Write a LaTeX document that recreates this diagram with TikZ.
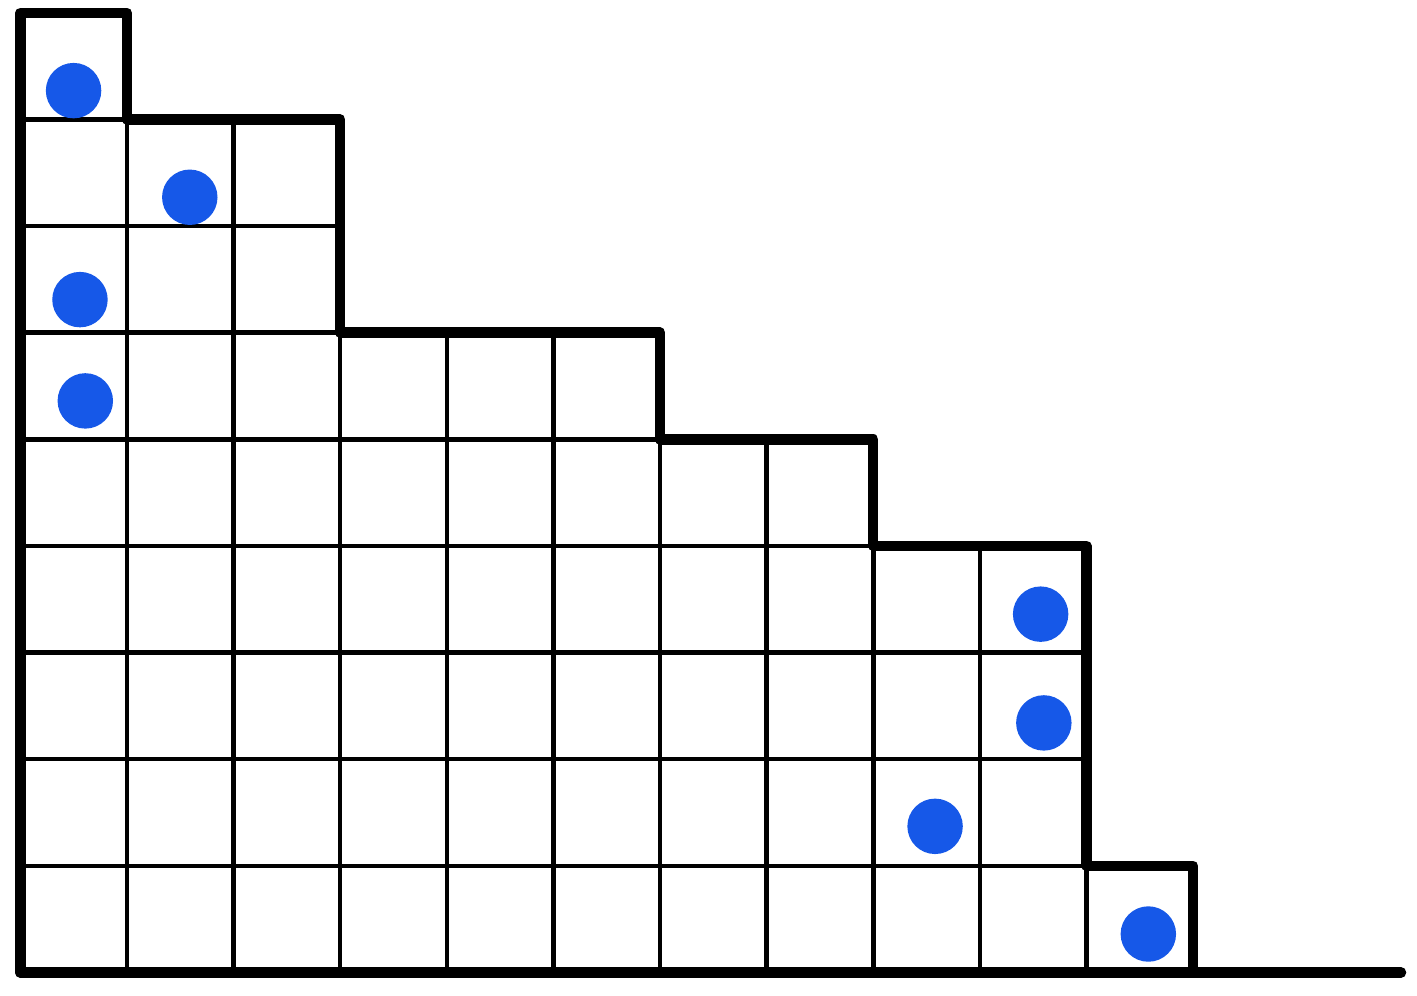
\documentclass[tikz,border=0pt]{standalone}
\definecolor{markerblue}{RGB}{22,88,232}
\tikzset{
  gridline/.style = {line width=1.2pt, black},
  rim/.style = {line width=2.8pt, black, line join=round, line cap=round},
  dot/.style = {circle, fill=markerblue, inner sep=0pt, minimum size=0.52cm}
}
\begin{document}
\begin{tikzpicture}
			\useasboundingbox (-0.19,-0.22) rectangle (13.1,9.12);
			% inner rows and columns
			\foreach \k/\w in {1/11,2/10,3/10,4/10,5/8,6/6,7/3,8/3}
				\draw[gridline] (0,\k) -- (\w,\k);
			\foreach \j/\h in {1/9,2/8,3/8,4/6,5/6,6/6,7/5,8/5,9/4,10/4}
				\draw[gridline] (\j,0) -- (\j,\h);
			
			\coordinate (o) at (0,0);
			\coordinate (e) at (12.95,0);
			\draw[rim] (o) -- (0,9) -- (1,9) -- (1,8) -- (3,8) -- (3,6) -- (6,6) -- (6,5)
				-- (8,5) -- (8,4) -- (10,4) -- (10,1) -- (11,1) -- (11,0);
			\draw[rim] (o) -- (e);
			
			\node[dot] (d1) at (0.50,8.27) {};
			\node[dot] (d2) at (1.59,7.27) {};
			\node[dot] (d3) at (0.56,6.31) {};
			\node[dot] (d4) at (0.61,5.36) {};
			\node[dot] (d5) at (9.57,3.36) {};
			\node[dot] (d6) at (9.60,2.34) {};
			\node[dot] (d7) at (8.58,1.37) {};
			\node[dot] (d8) at (10.58,0.36) {};
		\end{tikzpicture}
\end{document}
